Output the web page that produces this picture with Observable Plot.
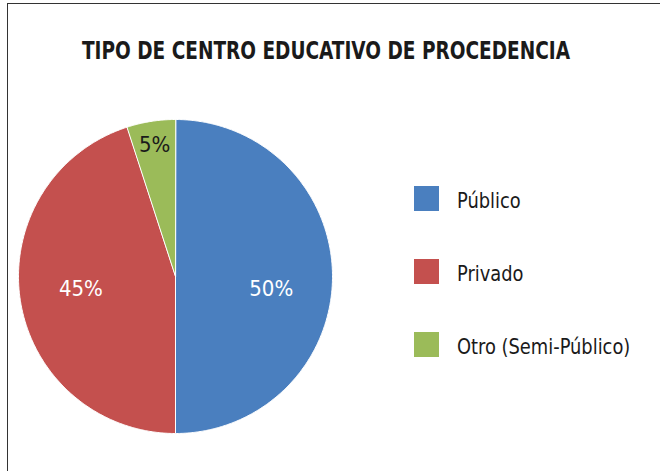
<!DOCTYPE html>
<html>
<head>
<meta charset="utf-8">
<script src="https://cdn.jsdelivr.net/npm/d3@7"></script>
<script src="https://cdn.jsdelivr.net/npm/@observablehq/plot@0.6"></script>
<style>
  body { margin: 0; background: #fff; }
  #chart { position: relative; width: 660px; height: 471px; overflow: hidden; background: #fff;
           font-family: "Liberation Sans Narrow", "DejaVu Sans Condensed", "Noto Sans", sans-serif; }
  #frame { position: absolute; left: 7px; top: 3px; width: 800px; height: 600px;
           border-top: 1.5px solid #333; border-left: 1.5px solid #333; }
  #plot { position: absolute; left: 0; top: 0; }
  #title { position: absolute; left: 0; width: 652px; top: 38px; text-align: center;
           font-size: 25px; line-height: 25px; font-weight: bold; color: #1a1a1a; white-space: nowrap;
           transform: scaleX(0.823); transform-origin: 326px 50%; }
  .lg-sw { position: absolute; left: 414px; width: 25px; height: 25px; }
  .lg-tx { position: absolute; left: 457px; font-size: 21px; line-height: 21px; color: #1a1a1a; white-space: nowrap;
           transform: scaleX(0.945); transform-origin: 0 50%; }
</style>
</head>
<body>
<div id="chart">
  <div id="frame"></div>
  <div id="plot"></div>
  <div id="title"></div>
</div>
<script>
const title = "TIPO DE CENTRO EDUCATIVO DE PROCEDENCIA";
const categories = ["Público", "Privado", "Otro (Semi-Público)"];
const values = [50, 45, 5];
const labels = ["50%", "45%", "5%"];
const colors = ["#4a7fbf", "#c4504e", "#9bbb59"];

const data = categories.map((c, i) => ({name: c, value: values[i], label: labels[i]}));
const arcs = d3.pie().sort(null).value(d => d.value)(data);
const total = d3.sum(values);

// polygon points for each slice (unit circle, y up, angle 0 at top, clockwise)
const slicePts = [];
for (const a of arcs) {
  slicePts.push({name: a.data.name, x: 0, y: 0});
  const n = Math.max(2, Math.ceil((a.endAngle - a.startAngle) / (Math.PI / 360)));
  for (let k = 0; k <= n; k++) {
    const t = a.startAngle + (a.endAngle - a.startAngle) * k / n;
    slicePts.push({name: a.data.name, x: Math.sin(t), y: Math.cos(t)});
  }
}
const labelPts = arcs.map((a, i) => {
  const m = (a.startAngle + a.endAngle) / 2;
  const small = a.data.value / total < 0.1;
  const r = small ? 0.85 : 0.61;
  return {label: a.data.label, i, small, x: r * Math.sin(m), y: r * Math.cos(m)};
});

const R = 157, cx = 175, cy = 276, W = 660, H = 471;
const fontFam = '"Liberation Sans Narrow", "DejaVu Sans Condensed", sans-serif';

const plot = Plot.plot({
  width: W, height: H,
  margin: 0, marginTop: 0, marginRight: 0, marginBottom: 0, marginLeft: 0,
  x: {domain: [-cx / R, (W - cx) / R], axis: null},
  y: {domain: [-(H - cy) / R, cy / R], axis: null},
  color: {domain: categories, range: colors},
  style: {background: "transparent", overflow: "visible"},
  marks: [
    Plot.line(slicePts, {x: "x", y: "y", z: "name", fill: "name", stroke: "white", strokeWidth: 1, curve: "linear-closed"}),
    Plot.text(labelPts.filter(d => d.i === 0), {x: "x", y: "y", text: "label", fill: "white", fontSize: 22, fontFamily: fontFam, dy: 12}),
    Plot.text(labelPts.filter(d => d.i === 1), {x: "x", y: "y", text: "label", fill: "white", fontSize: 22, fontFamily: fontFam, dy: -3}),
    Plot.text(labelPts.filter(d => d.small), {x: "x", y: "y", text: "label", fill: "#1a1a1a", fontSize: 22, fontFamily: fontFam, dy: 0})
  ]
});
document.getElementById("plot").appendChild(plot);
document.getElementById("title").textContent = title;

const chart = document.getElementById("chart");
categories.forEach((c, i) => {
  const sw = document.createElement("div");
  sw.className = "lg-sw";
  sw.style.top = (186 + i * 73) + "px";
  sw.style.background = colors[i];
  chart.appendChild(sw);
  const tx = document.createElement("div");
  tx.className = "lg-tx";
  tx.style.top = (191 + i * 73) + "px";
  tx.textContent = c;
  chart.appendChild(tx);
});
</script>
</body>
</html>
